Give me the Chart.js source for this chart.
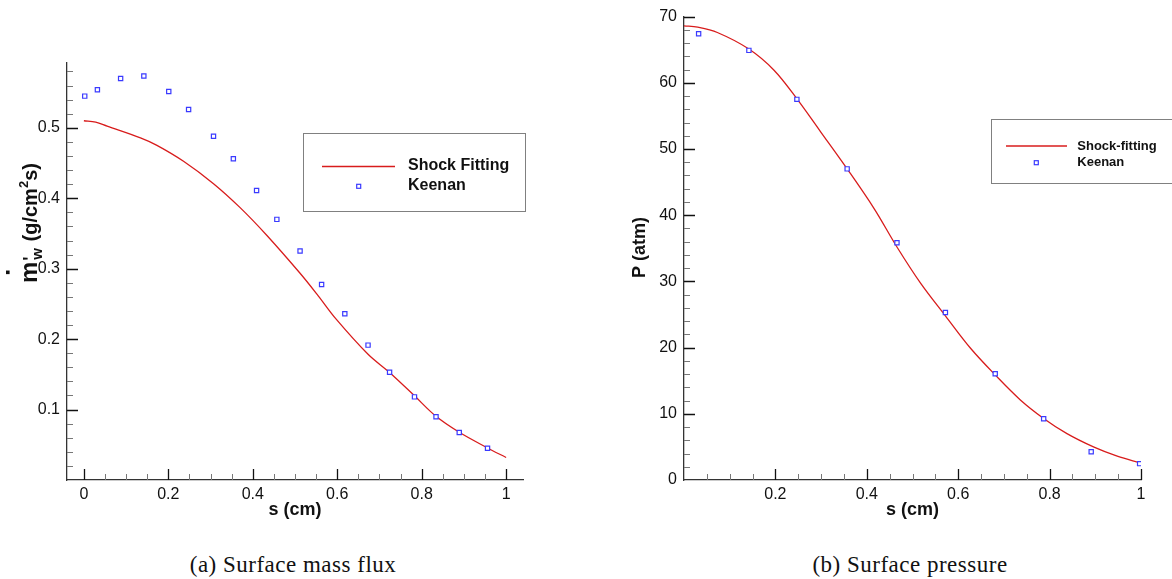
<!DOCTYPE html>
<html>
<head>
<meta charset="utf-8">
<script src="https://cdn.jsdelivr.net/npm/chart.js@4.4.0/dist/chart.umd.min.js"></script>
<style>
html, body { margin: 0; padding: 0; background: #fff; }
#wrap { position: relative; width: 1172px; height: 579px; overflow: hidden; }
canvas { position: absolute; top: 0; }
#fluxChart { left: 0; }
#presChart { left: 586px; }
.cap {
    position: absolute; top: 552px; line-height: 26px;
    font-family: "Liberation Serif", serif; font-size: 23px; letter-spacing: 0.5px;
    color: #111; white-space: nowrap; transform: translateX(-50%);
}
</style>
</head>
<body>
<div id="wrap">
    <canvas id="fluxChart" width="586" height="540"></canvas>
    <canvas id="presChart" width="586" height="540"></canvas>
    <div class="cap" style="left:293px">(a) Surface mass flux</div>
    <div class="cap" style="left:910px">(b) Surface pressure</div>
</div>
<script>
// (a) surface mass flux
const fluxS       = [0, 0.028, 0.055, 0.134, 0.173, 0.236, 0.307, 0.370, 0.433, 0.512, 0.555, 0.598, 0.673, 0.724, 0.783, 0.834, 0.889, 0.956, 1.0];
const fluxShock   = [0.510, 0.508, 0.5023, 0.4857, 0.4751, 0.4525, 0.4207, 0.3867, 0.3475, 0.2935, 0.2615, 0.228, 0.1785, 0.1526, 0.1195, 0.0904, 0.0677, 0.0455, 0.032];
const fluxKeenanS = [0.002, 0.032, 0.087, 0.142, 0.201, 0.248, 0.307, 0.354, 0.409, 0.457, 0.512, 0.563, 0.618, 0.673, 0.724, 0.783, 0.834, 0.889, 0.956];
const fluxKeenan  = [0.545, 0.554, 0.570, 0.5735, 0.5515, 0.526, 0.488, 0.456, 0.411, 0.370, 0.325, 0.2775, 0.236, 0.1915, 0.153, 0.118, 0.0898, 0.0673, 0.0451];

// (b) surface pressure
const presS       = [0, 0.03, 0.073, 0.142, 0.197, 0.248, 0.299, 0.357, 0.416, 0.466, 0.518, 0.572, 0.627, 0.682, 0.736, 0.787, 0.838, 0.896, 0.948, 1.0];
const presShock   = [68.6, 68.4, 67.6, 65.1, 61.9, 57.5, 52.6, 47.0, 41.0, 35.2, 29.7, 24.8, 19.9, 15.8, 12.1, 9.3, 7.0, 5.0, 3.6, 2.55];
const presKeenanS = [0.032, 0.142, 0.247, 0.357, 0.466, 0.572, 0.681, 0.787, 0.891, 0.997];
const presKeenan  = [67.4, 64.9, 57.5, 47.0, 35.85, 25.3, 16.05, 9.26, 4.28, 2.47];

// tick labels
const fluxXTicks = [0, 0.2, 0.4, 0.6, 0.8, 1];
const fluxYTicks = [0.1, 0.2, 0.3, 0.4, 0.5];
const presXTicks = [0.2, 0.4, 0.6, 0.8, 1];
const presYTicks = [0, 10, 20, 30, 40, 50, 60, 70];

const RED = '#d81c1c';
const BLUE = '#3a3aff';
const SANS = '"Liberation Sans", Arial, sans-serif';

const toPts = (xs, ys) => xs.map((x, i) => ({ x: x, y: ys[i] }));

function minorValues(min, max, step) {
    const out = [];
    for (let k = Math.ceil(min / step - 1e-9); k * step <= max + 1e-9; k++) out.push(k * step);
    return out;
}

function tickMarks(ctx, scale, values, len, color, width) {
    ctx.strokeStyle = color;
    ctx.lineWidth = width;
    ctx.beginPath();
    values.forEach(v => {
        const p = Math.round(scale.getPixelForValue(v)) + 0.5;
        if (scale.isHorizontal()) {
            if (p < scale.left + 1 || p > scale.right + 1) return;
            ctx.moveTo(p, scale.top);
            ctx.lineTo(p, scale.top - len);
        } else {
            if (p < scale.top - 1 || p > scale.bottom - 1) return;
            ctx.moveTo(scale.right, p);
            ctx.lineTo(scale.right + len, p);
        }
    });
    ctx.stroke();
}

// inward ticks, axis titles and boxed legend
const decoPlugin = {
    id: 'deco',
    afterDraw(chart, args, opts) {
        const ctx = chart.ctx;
        const xs = chart.scales.x, ys = chart.scales.y;
        ctx.save();
        const xMajor = xs.ticks.map(t => t.value);
        const yMajor = ys.ticks.map(t => t.value);
        const near = (arr, v) => arr.some(m => Math.abs(m - v) < 1e-6);
        tickMarks(ctx, xs, minorValues(xs.min, xs.max, opts.xMinor).filter(v => !near(xMajor, v)), 6, '#777', 1);
        tickMarks(ctx, ys, minorValues(ys.min, ys.max, opts.yMinor).filter(v => !near(yMajor, v)), 6, '#777', 1);
        tickMarks(ctx, xs, xMajor, 11, '#111', 1.3);
        tickMarks(ctx, ys, yMajor, 11, '#111', 1.3);

        // x title
        ctx.fillStyle = '#111';
        ctx.font = 'bold 18px ' + SANS;
        ctx.textAlign = 'center';
        ctx.textBaseline = 'middle';
        ctx.fillText(opts.xTitle, (xs.left + xs.right) / 2, 510);

        // y title
        opts.drawYTitle(ctx);

        // legend
        const lg = opts.legend;
        ctx.strokeStyle = '#808080';
        ctx.lineWidth = 1;
        ctx.strokeRect(lg.box[0], lg.box[1], lg.box[2], lg.box[3]);
        const line = chart.data.datasets[0], pts = chart.data.datasets[1];
        ctx.strokeStyle = line.borderColor;
        ctx.lineWidth = 1.5;
        ctx.beginPath();
        ctx.moveTo(lg.line[0], lg.line[2]);
        ctx.lineTo(lg.line[1], lg.line[2]);
        ctx.stroke();
        ctx.strokeStyle = pts.borderColor;
        ctx.lineWidth = 1.2;
        ctx.fillStyle = '#fff';
        ctx.fillRect(lg.marker[0] - 2, lg.marker[1] - 2, 4, 4);
        ctx.strokeRect(lg.marker[0] - 2, lg.marker[1] - 2, 4, 4);
        ctx.fillStyle = '#111';
        ctx.font = 'bold ' + lg.size + 'px ' + SANS;
        ctx.textAlign = 'left';
        ctx.textBaseline = 'middle';
        ctx.fillText(line.label, lg.textX, lg.rows[0]);
        ctx.fillText(pts.label, lg.textX, lg.rows[1]);
        ctx.restore();
    }
};

function drawMdotTitle(ctx) {
    ctx.save();
    ctx.translate(37, 283);
    ctx.rotate(-Math.PI / 2);
    ctx.fillStyle = '#111';
    ctx.textAlign = 'left';
    ctx.textBaseline = 'alphabetic';
    let x = 0;
    ctx.font = 'bold 24px ' + SANS;
    const mw = ctx.measureText('m').width;
    ctx.fillText('m', x, 0);
    ctx.fillRect(x + mw / 2 - 1.8, -31, 3.6, 3.6);
    x += mw;
    ctx.font = 'bold 18px ' + SANS;
    ctx.fillText("'", x + 1, -1);
    ctx.font = 'bold 15px ' + SANS;
    ctx.fillText('w', x + 2, 5);
    x += 3 + ctx.measureText('w').width;
    ctx.font = 'bold 20px ' + SANS;
    ctx.fillText(' (g/cm', x, 0);
    x += ctx.measureText(' (g/cm').width;
    ctx.font = 'bold 13px ' + SANS;
    ctx.fillText('2', x, -9);
    x += ctx.measureText('2').width;
    ctx.font = 'bold 20px ' + SANS;
    ctx.fillText('s)', x, 0);
    ctx.restore();
}

function drawPTitle(ctx) {
    ctx.save();
    ctx.translate(59, 247.5);
    ctx.rotate(-Math.PI / 2);
    ctx.fillStyle = '#111';
    ctx.font = 'bold 18px ' + SANS;
    ctx.textAlign = 'center';
    ctx.textBaseline = 'alphabetic';
    ctx.fillText('P (atm)', 0, 0);
    ctx.restore();
}

function makeChart(id, cfg) {
    const tickFont = { family: SANS, size: 16 };
    return new Chart(document.getElementById(id), {
        type: 'line',
        data: {
            datasets: [
                {
                    label: cfg.lineLabel,
                    data: toPts(cfg.lineS, cfg.lineV),
                    borderColor: RED,
                    borderWidth: 1.3,
                    pointRadius: 0,
                    fill: false,
                    tension: 0.35,
                    order: 1
                },
                {
                    label: 'Keenan',
                    data: toPts(cfg.ptS, cfg.ptV),
                    showLine: false,
                    borderColor: BLUE,
                    backgroundColor: '#fff',
                    pointStyle: 'rect',
                    pointRadius: 3,
                    pointBorderWidth: 1.2,
                    order: 0
                }
            ]
        },
        options: {
            responsive: false,
            animation: false,
            events: [],
            layout: { padding: cfg.padding },
            scales: {
                x: {
                    type: 'linear',
                    min: cfg.xRange[0],
                    max: cfg.xRange[1],
                    afterBuildTicks: s => { s.ticks = cfg.xTicks.map(v => ({ value: v })); },
                    afterFit: s => { s.height = 60; },
                    grid: { display: false, drawTicks: false },
                    border: { display: true, color: '#333', width: 1.3 },
                    ticks: { font: tickFont, color: '#111', padding: 5, maxRotation: 0, autoSkip: false, callback: v => String(v) }
                },
                y: {
                    type: 'linear',
                    min: cfg.yRange[0],
                    max: cfg.yRange[1],
                    afterBuildTicks: s => { s.ticks = cfg.yTicks.map(v => ({ value: v })); },
                    afterFit: s => { s.width = cfg.yWidth; },
                    grid: { display: false, drawTicks: false },
                    border: { display: true, color: '#333', width: 1.3 },
                    ticks: { font: tickFont, color: '#111', padding: 7, autoSkip: false, callback: v => String(v) }
                }
            },
            plugins: {
                legend: { display: false },
                tooltip: { enabled: false },
                deco: {
                    xMinor: cfg.xMinor,
                    yMinor: cfg.yMinor,
                    xTitle: 's (cm)',
                    drawYTitle: cfg.drawYTitle,
                    legend: cfg.legend
                }
            }
        },
        plugins: [decoPlugin]
    });
}

makeChart('fluxChart', {
    lineLabel: 'Shock Fitting',
    lineS: fluxS, lineV: fluxShock,
    ptS: fluxKeenanS, ptV: fluxKeenan,
    xRange: [-0.04, 1.04], yRange: [0, 0.592],
    xTicks: fluxXTicks, yTicks: fluxYTicks,
    xMinor: 0.05, yMinor: 0.02,
    yWidth: 67,
    padding: { left: 0, top: 63, right: 63, bottom: 0 },
    drawYTitle: drawMdotTitle,
    legend: { box: [303.5, 133.5, 222, 78], line: [322, 395, 166.5], marker: [358.7, 186.3], textX: 408, rows: [166, 186], size: 16 }
});

makeChart('presChart', {
    lineLabel: 'Shock-fitting',
    lineS: presS, lineV: presShock,
    ptS: presKeenanS, ptV: presKeenan,
    xRange: [0, 1], yRange: [0, 70],
    xTicks: presXTicks, yTicks: presYTicks,
    xMinor: 0.05, yMinor: 2,
    yWidth: 98,
    padding: { left: 0, top: 16, right: 31, bottom: 0 },
    drawYTitle: drawPTitle,
    legend: { box: [405.5, 119.5, 200, 64], line: [420, 481, 146], marker: [450.3, 162.7], textX: 491.3, rows: [146, 162.7], size: 13 }
});
</script>
</body>
</html>
